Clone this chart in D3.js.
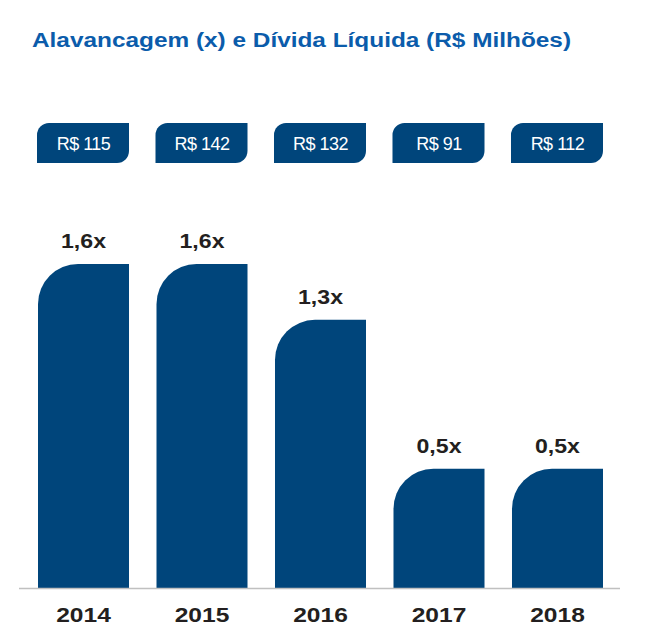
<!DOCTYPE html>
<html>
<head>
<meta charset="utf-8">
<script src="https://cdn.jsdelivr.net/npm/d3@7"></script>
<style>
  body { margin: 0; background: #fff; }
</style>
</head>
<body>
<div id="chart"></div>
<script>
var years = ["2014", "2015", "2016", "2017", "2018"];
var leverage = [1.6, 1.6, 1.3, 0.5, 0.5];
var netDebt = [115, 142, 132, 91, 112];

var width = 651, height = 635;
var barColor = "#00457b";
var font = "'Liberation Sans', Arial, sans-serif";

var svg = d3.select("#chart")
  .append("svg")
  .attr("width", width)
  .attr("height", height);

var x = d3.scaleBand()
  .domain(years)
  .range([38, 603])
  .paddingInner(0.232)
  .paddingOuter(0);

var y = d3.scaleLinear()
  .domain([-0.14, 1.6])
  .range([588, 264]);

var base = y(-0.14);

// the source uses a wide-looking bold face: stretch Arial bold a bit
function widen(sel, k) {
  sel.each(function() {
    var len = this.getComputedTextLength();
    d3.select(this)
      .attr("textLength", len * k)
      .attr("lengthAdjust", "spacingAndGlyphs");
  });
}

// bar with top-left rounded corner only
function barPath(x0, y0, w, h, r) {
  r = Math.min(r, w, h);
  return "M" + x0 + "," + (y0 + h) +
    "V" + (y0 + r) +
    "A" + r + "," + r + " 0 0 1 " + (x0 + r) + "," + y0 +
    "H" + (x0 + w) +
    "V" + (y0 + h) + "Z";
}

// pill: top-left and bottom-right corners rounded
function pillPath(x0, y0, w, h, r) {
  return "M" + x0 + "," + (y0 + h) +
    "V" + (y0 + r) +
    "A" + r + "," + r + " 0 0 1 " + (x0 + r) + "," + y0 +
    "H" + (x0 + w) +
    "V" + (y0 + h - r) +
    "A" + r + "," + r + " 0 0 1 " + (x0 + w - r) + "," + (y0 + h) +
    "Z";
}

svg.append("text")
  .attr("x", 32)
  .attr("y", 47)
  .attr("fill", "#0b5cab")
  .style("font-family", font)
  .style("font-size", "20px")
  .style("font-weight", "bold")
  .attr("textLength", 539)
  .attr("lengthAdjust", "spacingAndGlyphs")
  .text("Alavancagem (x) e Dívida Líquida (R$ Milhões)");

var data = years.map(function(d, i) {
  return { year: d, lev: leverage[i], debt: netDebt[i] };
});

svg.selectAll(".bar")
  .data(data)
  .enter().append("path")
  .attr("class", "bar")
  .attr("fill", barColor)
  .attr("d", function(d) {
    return barPath(x(d.year), y(d.lev), x.bandwidth(), base - y(d.lev), 40);
  });

svg.append("line")
  .attr("x1", 19)
  .attr("x2", 620)
  .attr("y1", base + 0.5)
  .attr("y2", base + 0.5)
  .attr("stroke", "#c0c0c0")
  .attr("stroke-width", 1.5);

svg.selectAll(".lev-label")
  .data(data)
  .enter().append("text")
  .attr("class", "lev-label")
  .attr("x", function(d) { return x(d.year) + x.bandwidth() / 2; })
  .attr("y", function(d) { return y(d.lev) - 16; })
  .attr("text-anchor", "middle")
  .style("font-family", font)
  .style("font-size", "21px")
  .style("font-weight", "bold")
  .attr("fill", "#231f20")
  .text(function(d) { return String(d.lev).replace(".", ",") + "x"; })
  .call(widen, 1.1);

svg.selectAll(".pill")
  .data(data)
  .enter().append("path")
  .attr("class", "pill")
  .attr("fill", barColor)
  .attr("d", function(d) {
    return pillPath(x(d.year) - 1, 123, x.bandwidth() + 1, 40, 12);
  });

svg.selectAll(".pill-label")
  .data(data)
  .enter().append("text")
  .attr("class", "pill-label")
  .attr("x", function(d) { return x(d.year) + x.bandwidth() / 2; })
  .attr("y", 150)
  .attr("text-anchor", "middle")
  .style("font-family", font)
  .style("font-size", "18px")
  .style("letter-spacing", "-0.5px")
  .attr("fill", "#fff")
  .text(function(d) { return "R$ " + d.debt; });

var xAxis = d3.axisBottom(x).tickSize(0).tickPadding(0);
var gx = svg.append("g")
  .attr("class", "axis x-axis")
  .attr("transform", "translate(0," + (base + 34) + ")")
  .call(xAxis);
gx.select(".domain").remove();
gx.selectAll("text")
  .attr("dy", 0)
  .attr("fill", "#231f20")
  .style("font-family", font)
  .style("font-size", "21px")
  .style("font-weight", "bold")
  .call(widen, 1.17);
</script>
</body>
</html>
